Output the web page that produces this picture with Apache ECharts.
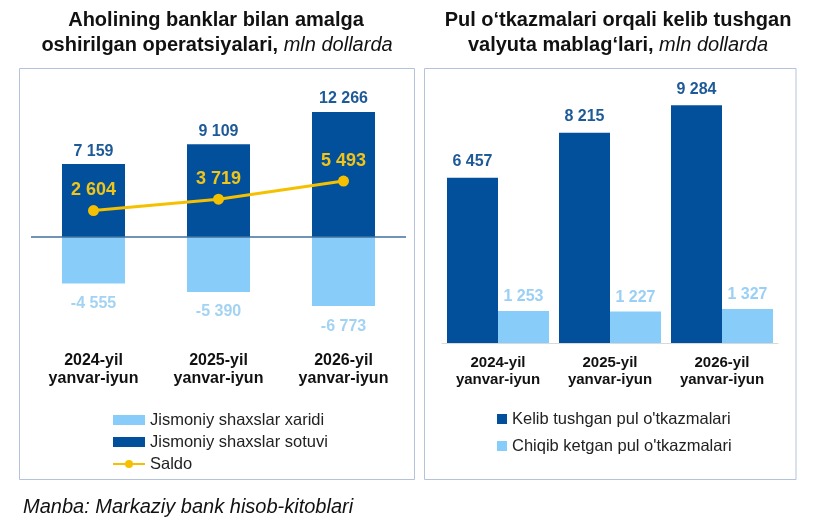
<!DOCTYPE html>
<html>
<head>
<meta charset="utf-8">
<script src="https://cdn.jsdelivr.net/npm/echarts@6/dist/echarts.min.js"></script>
<style>
html,body{margin:0;padding:0;background:#fff;}
#c{width:815px;height:527px;}
</style>
</head>
<body>
<div id="c"></div>
<script>
// ---- data ----
const categories = ['2024-yil\nyanvar-iyun', '2025-yil\nyanvar-iyun', '2026-yil\nyanvar-iyun'];
const purchases = [-4555, -5390, -6773];   // Jismoniy shaxslar xaridi
const sales = [7159, 9109, 12266];         // Jismoniy shaxslar sotuvi
const saldo = [2604, 3719, 5493];          // Saldo
const inflows = [6457, 8215, 9284];        // Kelib tushgan pul o'tkazmalari
const outflows = [1253, 1227, 1327];       // Chiqib ketgan pul o'tkazmalari

const DARK = '#02509b', LIGHT = '#88cdfa', GOLD = '#f5c000';
const FONT = '"Liberation Sans", Arial, sans-serif';
const fmt = v => String(v).replace(/\B(?=(\d{3})+(?!\d))/g, ' ');

const chart = echarts.init(document.getElementById('c'), null, {renderer: 'canvas'});
chart.setOption({
  animation: false,
  textStyle: {fontFamily: FONT},
  grid: [
    {left: 31, right: 409, top: 74, bottom: 188},
    {left: 442, right: 37, top: 87, bottom: 184}
  ],
  xAxis: [
    {gridIndex: 0, type: 'category', data: categories,
     axisLine: {show: false, onZero: false}, axisTick: {show: false},
     axisLabel: {margin: 13, fontSize: 16, fontWeight: 'bold', color: '#111', lineHeight: 18, fontFamily: FONT}},
    {gridIndex: 1, type: 'category', data: categories,
     axisLine: {show: true, lineStyle: {color: '#d9d9d9', width: 1}}, axisTick: {show: false},
     axisLabel: {margin: 11, fontSize: 15, fontWeight: 'bold', color: '#111', lineHeight: 17, fontFamily: FONT}}
  ],
  yAxis: [
    {gridIndex: 0, type: 'value', min: -10000, max: 16000, interval: 2000, show: false, splitLine: {show: false}},
    {gridIndex: 1, type: 'value', min: 0, max: 10000, interval: 2000, show: false, splitLine: {show: false}}
  ],
  legend: [
    {orient: 'vertical', left: 112, top: 411, padding: 0, itemWidth: 32, itemHeight: 10, itemGap: 4,
     textStyle: {fontSize: 16.5, color: '#222', lineHeight: 18, fontFamily: FONT},
     data: [
       {name: 'Jismoniy shaxslar xaridi', icon: 'rect'},
       {name: 'Jismoniy shaxslar sotuvi', icon: 'rect'},
       {name: 'Saldo'}
     ]},
    {orient: 'vertical', left: 497, top: 410, padding: 0, itemWidth: 10, itemHeight: 10, itemGap: 9,
     textStyle: {fontSize: 16.5, color: '#222', lineHeight: 18, fontFamily: FONT},
     data: [
       {name: "Kelib tushgan pul o'tkazmalari", icon: 'rect'},
       {name: "Chiqib ketgan pul o'tkazmalari", icon: 'rect'}
     ]}
  ],
  series: [
    {name: 'Jismoniy shaxslar xaridi', type: 'bar', xAxisIndex: 0, yAxisIndex: 0,
     data: purchases, barWidth: 63, barGap: '-100%', itemStyle: {color: LIGHT},
     label: {show: true, position: 'bottom', distance: 12, fontSize: 16, fontWeight: 'bold',
             color: '#a3d3f3', formatter: p => fmt(p.value), fontFamily: FONT},
     markLine: {silent: true, symbol: 'none', label: {show: false},
                lineStyle: {color: '#41719c', width: 1.5, type: 'solid'},
                data: [{yAxis: 0}]}},
    {name: 'Jismoniy shaxslar sotuvi', type: 'bar', xAxisIndex: 0, yAxisIndex: 0,
     data: sales, barWidth: 63, barGap: '-100%', itemStyle: {color: DARK},
     label: {show: true, position: 'top', distance: 5, fontSize: 16, fontWeight: 'bold',
             color: '#1d5a97', formatter: p => fmt(p.value), fontFamily: FONT}},
    {name: 'Saldo', type: 'line', xAxisIndex: 0, yAxisIndex: 0, data: saldo,
     symbol: 'circle', symbolSize: 11, z: 5,
     lineStyle: {color: GOLD, width: 3}, itemStyle: {color: GOLD},
     label: {show: true, position: 'top', distance: 6, fontSize: 18, fontWeight: 'bold',
             color: '#f0c419', formatter: p => fmt(p.value), fontFamily: FONT}},
    {name: "Kelib tushgan pul o'tkazmalari", type: 'bar', xAxisIndex: 1, yAxisIndex: 1,
     data: inflows, barWidth: 51, barGap: '0%', itemStyle: {color: DARK},
     label: {show: true, position: 'top', distance: 8, fontSize: 16, fontWeight: 'bold',
             color: '#1d5a97', formatter: p => fmt(p.value), fontFamily: FONT}},
    {name: "Chiqib ketgan pul o'tkazmalari", type: 'bar', xAxisIndex: 1, yAxisIndex: 1,
     data: outflows, barWidth: 51, barGap: '0%', itemStyle: {color: LIGHT},
     label: {show: true, position: 'top', distance: 6, fontSize: 16, fontWeight: 'bold',
             color: '#9ad0f5', formatter: p => fmt(p.value), fontFamily: FONT}}
  ],
  graphic: [
    {type: 'rect', silent: true, z: -1, shape: {x: 19.5, y: 68.5, width: 395, height: 411},
     style: {fill: 'none', stroke: '#b4c3dc', lineWidth: 1}},
    {type: 'rect', silent: true, z: -1, shape: {x: 424.5, y: 68.5, width: 371.5, height: 411},
     style: {fill: 'none', stroke: '#b4c3dc', lineWidth: 1}},
    {type: 'text', x: 216, y: 20, style: {text: 'Aholining banklar bilan amalga', align: 'center', verticalAlign: 'middle',
      font: 'bold 20px ' + FONT, fill: '#111'}},
    {type: 'text', x: 217, y: 45, style: {text: '{b|oshirilgan operatsiyalari, }{i|mln dollarda}', align: 'center', verticalAlign: 'middle',
      rich: {b: {font: 'bold 20px ' + FONT, fill: '#111'}, i: {font: 'italic 20px ' + FONT, fill: '#111'}}}},
    {type: 'text', x: 618, y: 20, style: {text: 'Pul o‘tkazmalari orqali kelib tushgan', align: 'center', verticalAlign: 'middle',
      font: 'bold 20px ' + FONT, fill: '#111'}},
    {type: 'text', x: 618, y: 45, style: {text: '{b|valyuta mablag‘lari, }{i|mln dollarda}', align: 'center', verticalAlign: 'middle',
      rich: {b: {font: 'bold 20px ' + FONT, fill: '#111'}, i: {font: 'italic 20px ' + FONT, fill: '#111'}}}},
    {type: 'text', x: 23, y: 507, style: {text: 'Manba: Markaziy bank hisob-kitoblari', align: 'left', verticalAlign: 'middle',
      font: 'italic 20px ' + FONT, fill: '#111'}}
  ]
});
</script>
</body>
</html>
